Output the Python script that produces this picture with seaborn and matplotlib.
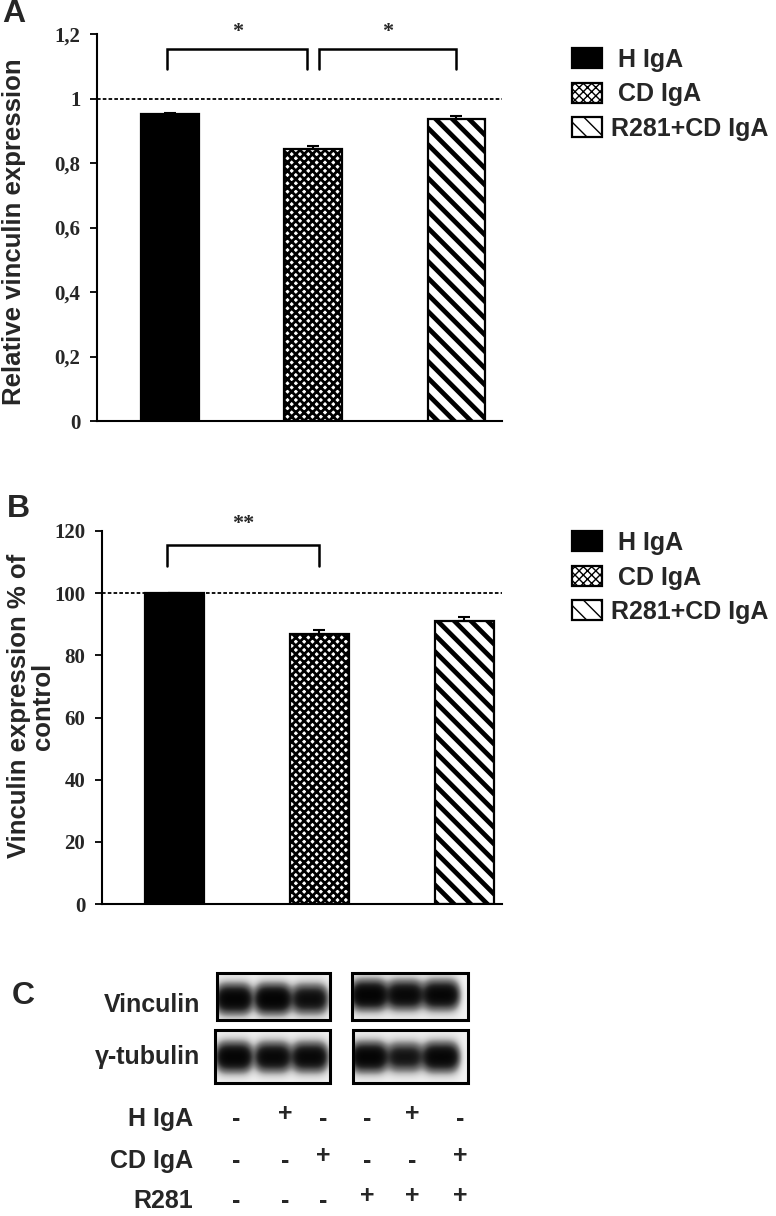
import numpy as np
import pandas as pd
import matplotlib
matplotlib.use('Agg')
import matplotlib.pyplot as plt
import seaborn as sns
from matplotlib.patches import Patch, Rectangle

# --- data ---
conditions = ['H IgA', 'CD IgA', 'R281+CD IgA']
rel_vinculin = [0.951, 0.843, 0.936]          # panel A
rel_vinculin_err = [0.005, 0.010, 0.010]
pct_vinculin = [100.0, 87.0, 91.1]            # panel B
pct_vinculin_err = [0.0, 1.0, 1.2]

yticks_a = [0, 0.2, 0.4, 0.6, 0.8, 1.0, 1.2]
yticklabels_a = ['0', '0,2', '0,4', '0,6', '0,8', '1', '1,2']
yticks_b = [0, 20, 40, 60, 80, 100, 120]

# significance brackets: (left, right, tip, top, label)
sig_a = [(-0.02, 0.96, 1.09, 1.153, '*'), (1.04, 2.0, 1.09, 1.153, '*')]
sig_b = [(-0.05, 1.0, 108.8, 115.5, '**')]

# panel C: western blot band strengths per lane (two gels of three lanes)
blot_rows = ['Vinculin', 'γ-tubulin']
vinculin_bands = [[0.95, 1.00, 0.75], [1.00, 0.85, 0.90]]
tubulin_bands = [[0.95, 0.85, 0.85], [0.95, 0.65, 0.90]]
treat_rows = ['H IgA', 'CD IgA', 'R281']
treat_signs = [['-', '+', '-', '-', '+', '-'],
               ['-', '-', '+', '-', '-', '+'],
               ['-', '-', '-', '+', '+', '+']]

hatches = ['', 'xxxx', '\\\\']
faces = ['black', 'white', 'white']
hatch_lw = [1.0, 2.0, 3.4]

sns.set_style('white')
plt.rcParams['font.family'] = ['Liberation Sans', 'DejaVu Sans']
plt.rcParams['font.weight'] = 'bold'

W, H = 776, 1216
fig = plt.figure(figsize=(W / 100, H / 100), dpi=100)


def px_axes(left, right, top, bottom):
    return fig.add_axes([left / W, 1 - bottom / H, (right - left) / W, (bottom - top) / H])


def style_hatch(patch, i):
    patch.set_hatch(hatches[i])
    patch.set_edgecolor('black')
    patch.set_linewidth(1.6)
    if hasattr(patch, 'set_hatch_linewidth'):
        patch.set_hatch_linewidth(hatch_lw[i])


def bar_panel(ax, vals, errs, yticks, yticklabels, ylim, xlim, sig, width, ref):
    df = pd.DataFrame({'cond': conditions, 'val': vals})
    sns.barplot(data=df, x='cond', y='val', hue='cond', order=conditions,
                palette=dict(zip(conditions, faces)), width=width,
                errorbar=None, legend=False, ax=ax, saturation=1)
    for i, p in enumerate(ax.patches):
        style_hatch(p, i)
    ax.errorbar(range(3), vals, yerr=[[0, 0, 0], errs], fmt='none',
                ecolor='black', elinewidth=1.5, capsize=4, capthick=1.5)
    ax.axhline(ref, color='black', lw=1.3, ls=(0, (2, 1.2)), zorder=0.5)
    ax.set_ylim(*ylim)
    ax.set_xlim(*xlim)
    ax.set_yticks(yticks)
    ax.set_yticklabels(yticklabels, family='Liberation Serif', fontsize=15, weight='bold')
    ax.set_xticks([])
    ax.set_xlabel('')
    ax.set_ylabel('')
    for s in ['top', 'right']:
        ax.spines[s].set_visible(False)
    for s in ['left', 'bottom']:
        ax.spines[s].set_color('black')
        ax.spines[s].set_linewidth(1.5)
    ax.tick_params(axis='y', left=True, length=5, width=1.3, color='black', pad=7)
    for x0, x1, tip, top, lab in sig:
        ax.plot([x0, x0, x1, x1], [tip, top, top, tip], color='black', lw=1.8,
                clip_on=False, solid_joinstyle='miter')
        ax.text((x0 + x1) / 2, ylim[1] * 1.005 if lab == '*' else ylim[1] * 1.02, lab,
                ha='center', va='center', family='Liberation Serif', fontsize=16,
                weight='bold', clip_on=False)
    handles = [Patch(facecolor=faces[i], edgecolor='black', hatch=hatches[i], lw=1.6)
               for i in range(3)]
    for i, h in enumerate(handles):
        if hasattr(h, 'set_hatch_linewidth'):
            h.set_hatch_linewidth(hatch_lw[i])
    return handles


leg_kw = dict(loc='upper left', frameon=False, prop={'size': 18, 'weight': 'bold'},
              handlelength=1.2, handleheight=0.85, handletextpad=0.35,
              labelspacing=0.42, borderpad=0, borderaxespad=0)
leg_labels = [' H IgA', ' CD IgA', 'R281+CD IgA']

# panel A
axA = px_axes(97, 502, 34, 421)
hA = bar_panel(axA, rel_vinculin, rel_vinculin_err, yticks_a, yticklabels_a,
               (0, 1.2), (-0.51, 2.32), sig_a, 0.4, 1.0)
fig.text(14 / W, 1 - 232 / H, 'Relative vinculin expression', rotation=90,
         ha='center', va='center', fontsize=18.5, weight='bold')
fig.legend(hA, leg_labels, bbox_to_anchor=(572 / W, 1 - 48 / H), **leg_kw)

# panel B
axB = px_axes(102, 502, 531, 904)
hB = bar_panel(axB, pct_vinculin, pct_vinculin_err, yticks_b, [str(t) for t in yticks_b],
               (0, 120), (-0.50, 2.26), sig_b, 0.41, 100)
fig.text(31 / W, 1 - 706 / H, 'Vinculin expression % of\ncontrol', rotation=90,
         ha='center', va='center', fontsize=18.5, weight='bold', linespacing=0.95,
         multialignment='center')
fig.legend(hB, leg_labels, bbox_to_anchor=(572 / W, 1 - 531 / H), **leg_kw)

# panel letters
for lab, x, y in [('A', 2, 14), ('B', 7, 509), ('C', 12, 996)]:
    fig.text(x / W, 1 - y / H, lab, ha='left', va='center', fontsize=23, weight='bold')

# panel C: blot drawing in pixel space
axC = fig.add_axes([0, 0, 1, 1])
axC.set_xlim(0, W)
axC.set_ylim(H, 0)
axC.axis('off')

boxes = [[(217, 330, 973, 1020), (352, 468, 973, 1020)],
         [(215, 330, 1030, 1083), (353, 468, 1030, 1083)]]
lanes = [[234, 273, 310], [369, 405, 441]]
band_y = [[999, 995], [1057, 1057]]
for r, bands in enumerate([vinculin_bands, tubulin_bands]):
    for g in range(2):
        x0, x1, y0, y1 = boxes[r][g]
        xs = np.linspace(x0, x1, 240)
        ys = np.linspace(y0, y1, 110)
        X, Y = np.meshgrid(xs, ys)
        dens = np.zeros_like(X) + 0.03
        for lx, s in zip(lanes[g], bands[g]):
            dens += s * np.exp(-((X - lx) / 17) ** 4 - ((Y - band_y[r][g]) / 12) ** 2)
        img = 1 - np.exp(-4.0 * dens)
        axC.imshow(img, extent=(x0, x1, y1, y0), cmap='Greys', vmin=0, vmax=1,
                   aspect='auto', interpolation='bilinear', zorder=1)
        axC.add_patch(Rectangle((x0, y0), x1 - x0, y1 - y0, fill=False,
                                edgecolor='black', lw=2.2, zorder=2))
    fig.text(200 / W, 1 - [1005, 1057][r] / H, blot_rows[r], ha='right', va='center',
             fontsize=18, weight='bold')

sign_x = [236, 285, 323, 367, 412, 460]
row_y = [1119, 1161, 1201]
for r, name in enumerate(treat_rows):
    axC.text(193, row_y[r], name, ha='right', va='center', fontsize=18, weight='bold')
    for sx, sgn in zip(sign_x, treat_signs[r]):
        axC.text(sx, row_y[r] - (5 if sgn == '+' else 0), sgn, ha='center', va='center',
                 fontsize=18, weight='bold')

fig.savefig('out.png', dpi=100)
